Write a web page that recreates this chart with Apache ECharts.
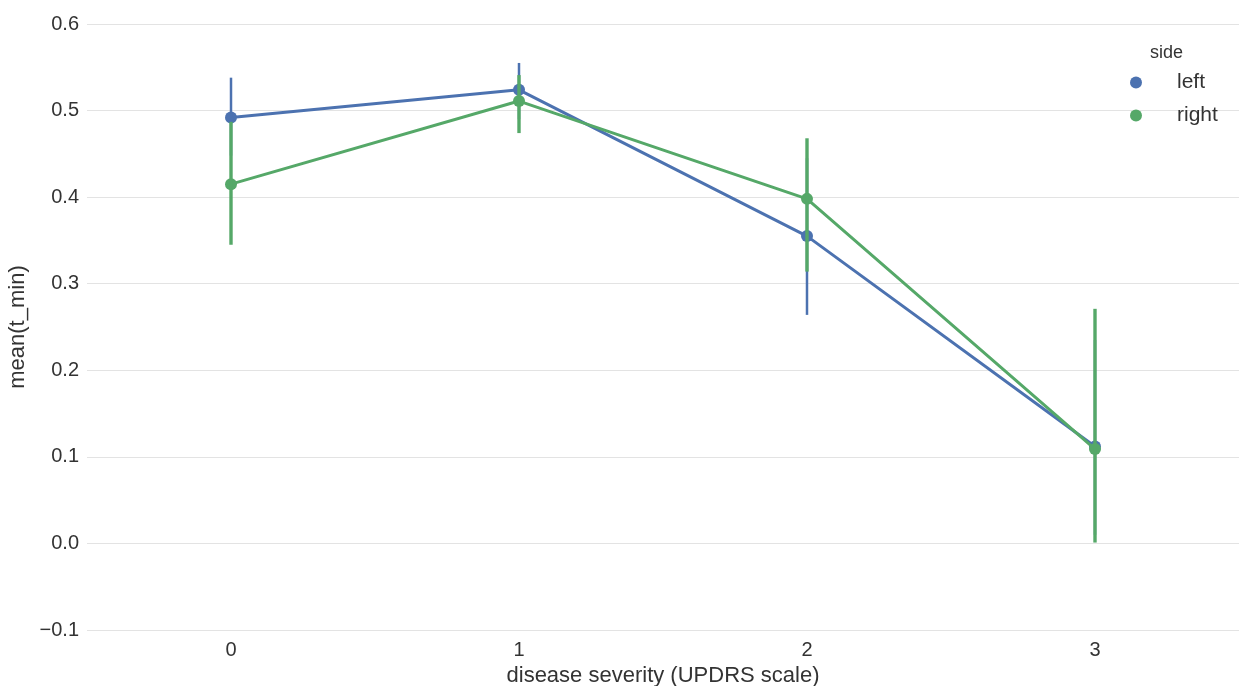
<!DOCTYPE html>
<html>
<head>
<meta charset="utf-8">
<script src="https://cdn.jsdelivr.net/npm/echarts@6/dist/echarts.min.js"></script>
<style>html,body{margin:0;padding:0;background:#fff;}#chart{width:1239px;height:686px;}</style>
</head>
<body>
<div id="chart"></div>
<script>
var categories = ['0', '1', '2', '3'];
var yTicks = [-0.1, 0.0, 0.1, 0.2, 0.3, 0.4, 0.5, 0.6];
var leftMean = [0.492, 0.524, 0.355, 0.112];
var leftLow = [0.448, 0.490, 0.264, 0.010];
var leftHigh = [0.538, 0.555, 0.445, 0.235];
var rightMean = [0.415, 0.511, 0.398, 0.109];
var rightLow = [0.345, 0.474, 0.314, 0.001];
var rightHigh = [0.487, 0.541, 0.468, 0.271];

var BLUE = '#4C72B0', GREEN = '#55A868';
var FONT = 'Liberation Sans, Arial, sans-serif';

function errData(low, high) {
  return categories.map(function (c, i) { return [i, low[i], high[i]]; });
}
function errSeries(name, low, high, color, z, w) {
  return {
    type: 'custom', name: name, z: z, silent: true,
    renderItem: function (params, api) {
      var p1 = api.coord([api.value(0), api.value(1)]);
      var p2 = api.coord([api.value(0), api.value(2)]);
      return { type: 'line', shape: { x1: p1[0], y1: p1[1], x2: p2[0], y2: p2[1] },
               style: { stroke: color, lineWidth: w } };
    },
    data: errData(low, high)
  };
}

var chart = echarts.init(document.getElementById('chart'));
chart.setOption({
  backgroundColor: '#fff',
  animation: false,
  textStyle: { fontFamily: FONT },
  grid: { left: 87, right: 0, top: 24, bottom: 56, outerBoundsMode: 'none', containLabel: false },
  title: { text: 'side', left: 1145, top: 39, textStyle: { fontSize: 18, fontWeight: 'normal', color: '#333', fontFamily: FONT } },
  legend: {
    orient: 'vertical', left: 1125, top: 67, itemWidth: 12, itemHeight: 12, itemGap: 12,
    icon: 'circle',
    textStyle: { fontSize: 21, color: '#333', lineHeight: 18, padding: [0, 0, 0, 30], fontFamily: FONT },
    data: ['left', 'right']
  },
  xAxis: {
    type: 'category', data: categories, boundaryGap: true,
    name: 'disease severity (UPDRS scale)', nameLocation: 'middle', nameGap: 34,
    nameTextStyle: { fontSize: 22, color: '#333' },
    axisLine: { show: false }, axisTick: { show: false },
    axisLabel: { fontSize: 20, color: '#333', margin: 10 },
    splitLine: { show: false }
  },
  yAxis: {
    type: 'value', min: -0.1, max: 0.6, interval: 0.1,
    name: 'mean(t_min)', nameLocation: 'middle', nameGap: 48,
    nameTextStyle: { fontSize: 22, color: '#333' },
    axisLine: { show: false }, axisTick: { show: false },
    axisLabel: { fontSize: 20, color: '#333', margin: 8,
      formatter: function (v) { var s = (Math.round(v * 10) / 10).toFixed(1); return s.replace('-', '\u2212'); } },
    splitLine: { show: true, lineStyle: { color: '#e3e3e3', width: 1.2 } }
  },
  series: [
    { type: 'line', name: 'left', data: leftMean, z: 2, symbol: 'circle', symbolSize: 12,
      lineStyle: { color: BLUE, width: 3 }, itemStyle: { color: BLUE } },
    errSeries('left', leftLow, leftHigh, BLUE, 3, 2.5),
    { type: 'line', name: 'right', data: rightMean, z: 4, symbol: 'circle', symbolSize: 12,
      lineStyle: { color: GREEN, width: 3 }, itemStyle: { color: GREEN } },
    errSeries('right', rightLow, rightHigh, GREEN, 5, 3.4)
  ]
});
</script>
</body>
</html>
